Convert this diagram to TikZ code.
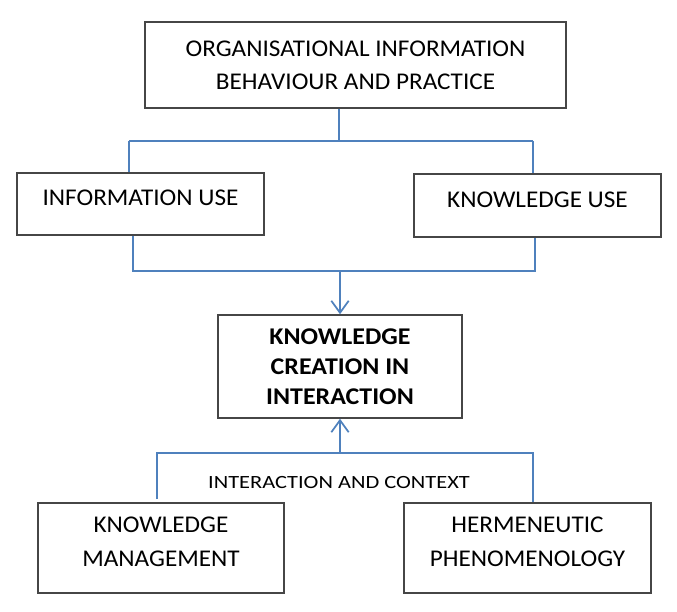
\documentclass[tikz,border=0pt]{standalone}
\usepackage{fontspec}
\setmainfont{Carlito}[FakeStretch=1.05]
\newfontfamily\boldstretch{Carlito}[FakeStretch=1.08]
\newfontfamily\labelfont{Carlito}[FakeStretch=1.2]
\usetikzlibrary{arrows.meta}
\definecolor{conn}{RGB}{79,129,189}
\definecolor{boxline}{RGB}{70,70,70}
\tikzset{
  box/.style={draw=boxline, line width=1.1pt, align=center, inner sep=0pt,
    font=\fontsize{18}{24.75}\selectfont},
  conline/.style={draw=conn, line width=1.5pt},
  arr/.style={conline, -{Straight Barb[length=9pt,width=13pt,line width=1.3pt]}},
}
\begin{document}
\begin{tikzpicture}[x=0.75pt,y=-0.75pt]
\useasboundingbox (0,0) rectangle (677,611);
\node[box, minimum width=315.75pt, minimum height=64.5pt] (top) at (355.5,65)
  {ORGANISATIONAL INFORMATION\\BEHAVIOUR AND PRACTICE};
\node[box, minimum width=185.25pt, minimum height=46.5pt, text depth=10pt] (info) at (140.5,204)
  {INFORMATION USE};
\node[box, minimum width=185.25pt, minimum height=47.25pt, text depth=8pt] (know) at (537.5,205.5)
  {KNOWLEDGE USE};
\node[box, minimum width=183pt, minimum height=77.25pt, font=\boldstretch\fontsize{18}{22.5}\selectfont\bfseries] (kci) at (340,366.5)
  {KNOWLEDGE\\CREATION IN\\INTERACTION};
\node[box, minimum width=184.5pt, minimum height=67.5pt, font=\fontsize{18}{25.5}\selectfont, text depth=9pt] (km) at (161,548)
  {KNOWLEDGE\\MANAGEMENT};
\node[box, minimum width=185.25pt, minimum height=67.5pt, font=\fontsize{18}{25.5}\selectfont, text depth=9pt] (hp) at (527.5,548)
  {HERMENEUTIC\\PHENOMENOLOGY};
\node[font=\labelfont\fontsize{14}{17}\selectfont, inner sep=0pt] (ctx) at (339,482) {INTERACTION AND CONTEXT};
% top split
\coordinate (s1) at (339,141);
\coordinate (sl) at (129,141);
\coordinate (sr) at (533,141);
\draw[conline] (top.south -| s1) -- (s1);
\draw[conline] (sl) -- (sr);
\draw[conline] (sl) -- (sl |- info.north);
\draw[conline] (sr) -- (sr |- know.north);
% merge
\coordinate (ml) at (133,271);
\coordinate (mr) at (535,271);
\coordinate (mc) at (340,271);
\draw[conline] (ml |- info.south) -- (ml) -- (mr) -- (mr |- know.south);
\draw[arr] (mc) -- (kci.north);
% bottom
\coordinate (bl) at (157,453);
\coordinate (br) at (533,453);
\coordinate (bc) at (340,453);
\coordinate (blend) at (157,499);
\draw[conline] (blend) -- (bl) -- (br) -- (br |- hp.north);
\draw[arr] (bc) -- (kci.south);
\end{tikzpicture}
\end{document}
